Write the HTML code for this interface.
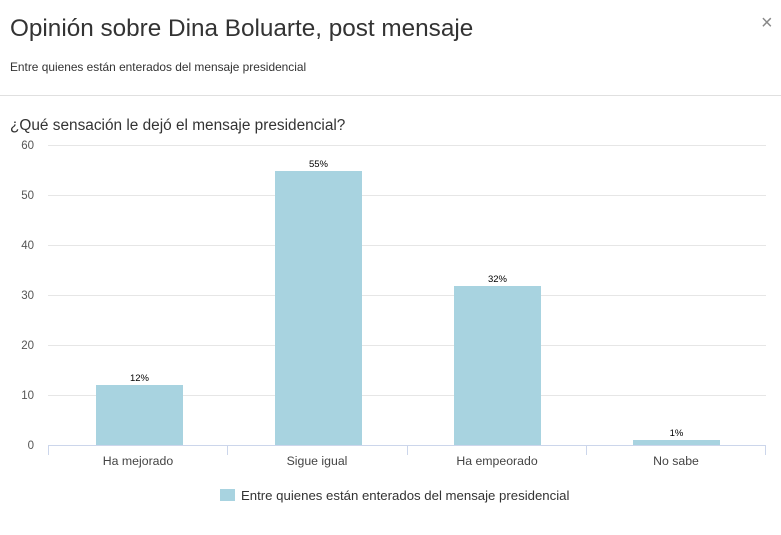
<!DOCTYPE html>
<html><head><meta charset="utf-8"><style>
body{margin:0;width:781px;height:530px;background:#fff;overflow:hidden;font-family:"Liberation Sans",sans-serif;}
</style></head><body>
<svg width="781" height="530" xmlns="http://www.w3.org/2000/svg" font-family="Liberation Sans, DejaVu Sans, sans-serif">
<text x="10" y="36" font-size="24.3" fill="#333">Opinión sobre Dina Boluarte, post mensaje</text>
<text x="761" y="29" font-size="20" fill="#888">×</text>
<text x="10" y="71" font-size="11.9" fill="#333">Entre quienes están enterados del mensaje presidencial</text>
<line x1="0" y1="95.5" x2="781" y2="95.5" stroke="#e0e0e0"/>
<text x="10" y="130" font-size="15.4" fill="#333">¿Qué sensación le dejó el mensaje presidencial?</text>
<g stroke="#e6e6e6">
<line x1="48" y1="145.5" x2="766" y2="145.5"/>
<line x1="48" y1="195.5" x2="766" y2="195.5"/>
<line x1="48" y1="245.5" x2="766" y2="245.5"/>
<line x1="48" y1="295.5" x2="766" y2="295.5"/>
<line x1="48" y1="345.5" x2="766" y2="345.5"/>
<line x1="48" y1="395.5" x2="766" y2="395.5"/>
</g>
<g font-size="11.5" fill="#555" text-anchor="end">
<text x="34" y="149">60</text><text x="34" y="199">50</text><text x="34" y="249">40</text>
<text x="34" y="299">30</text><text x="34" y="349">20</text><text x="34" y="399">10</text><text x="34" y="449">0</text>
</g>
<g fill="#a8d3e0">
<rect x="96" y="385" width="87" height="60"/>
<rect x="275" y="171" width="87" height="274"/>
<rect x="454" y="286" width="87" height="159"/>
<rect x="633" y="440" width="87" height="5"/>
</g>
<line x1="48" y1="445.5" x2="766" y2="445.5" stroke="#ccd6eb"/>
<g stroke="#ccd6eb">
<line x1="48.5" y1="445" x2="48.5" y2="455"/><line x1="227.5" y1="445" x2="227.5" y2="455"/>
<line x1="407.5" y1="445" x2="407.5" y2="455"/><line x1="586.5" y1="445" x2="586.5" y2="455"/>
<line x1="765.5" y1="445" x2="765.5" y2="455"/>
</g>
<g font-size="9.5" fill="#000" text-anchor="middle">
<text x="139.5" y="381">12%</text><text x="318.5" y="167">55%</text>
<text x="497.5" y="282">32%</text><text x="676.5" y="436">1%</text>
</g>
<g font-size="12.3" fill="#444" text-anchor="middle">
<text x="138" y="465">Ha mejorado</text><text x="317" y="465">Sigue igual</text>
<text x="497" y="465">Ha empeorado</text><text x="676" y="465">No sabe</text>
</g>
<rect x="220" y="489" width="15" height="12" fill="#a8d3e0"/>
<text x="241" y="500" font-size="13.2" fill="#333">Entre quienes están enterados del mensaje presidencial</text>
</svg>
</body></html>
